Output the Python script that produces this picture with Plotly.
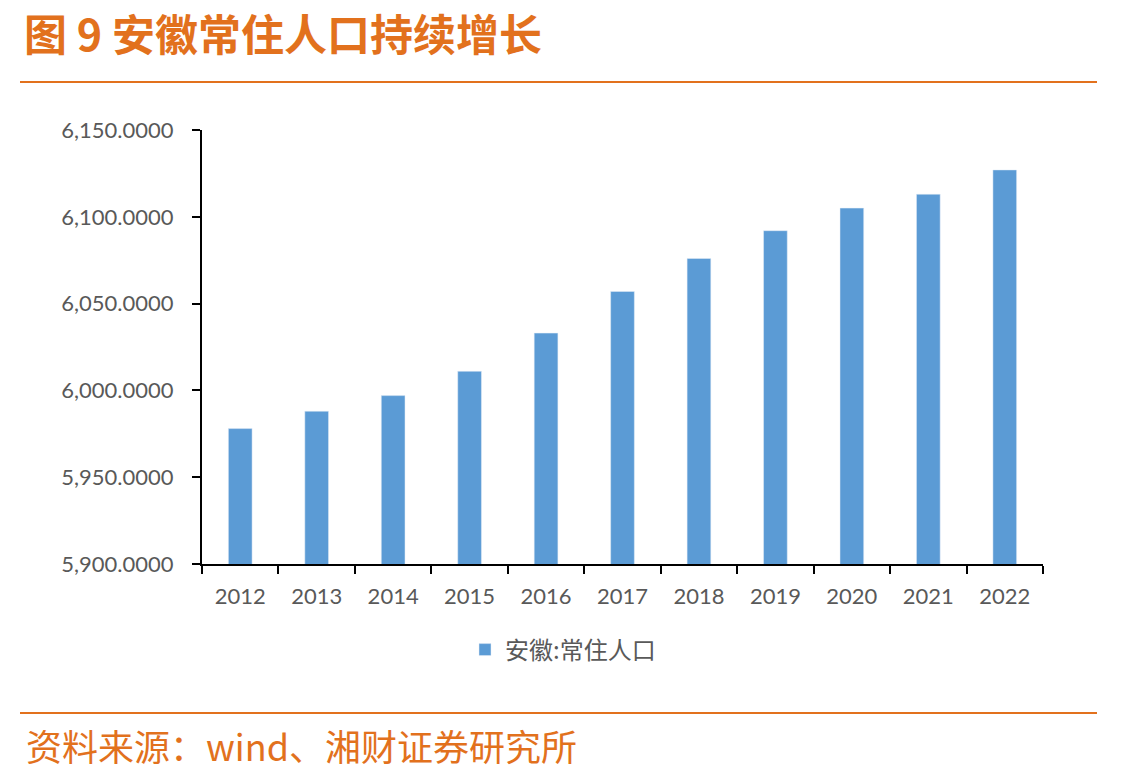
import plotly.graph_objects as go

years = ["2012", "2013", "2014", "2015", "2016", "2017", "2018", "2019", "2020", "2021", "2022"]
population = [5978, 5988, 5997, 6011, 6033, 6057, 6076, 6092, 6105, 6113, 6127]
series_name = "安徽:常住人口"
title_text = "图 9 安徽常住人口持续增长"
source_text = "资料来源：wind、湘财证券研究所"

W, H = 1145, 774
L, R, T, B = 202, 1043, 130, 564
orange = "#E2711D"

def py(pix):
    return (B - pix) / (B - T)

def px(pix):
    return (pix - L) / (R - L)

fig = go.Figure()
fig.add_trace(go.Bar(
    x=years, y=population, name=series_name,
    marker=dict(color="#5B9BD5"), width=0.31, showlegend=True,
))

fig.update_layout(
    width=W, height=H,
    margin=dict(l=L, r=W - R, t=T, b=H - B),
    plot_bgcolor="white", paper_bgcolor="white",
    showlegend=True,
    font=dict(family="Lato, 'Noto Sans CJK SC'", color="#595959", size=22),
    xaxis=dict(
        type="category", showline=True, linecolor="black", linewidth=2,
        ticks="outside", tickson="boundaries", ticklen=8, tickcolor="black", tickwidth=2,
        tickfont=dict(size=22, color="#595959"), showgrid=False,
        ticklabelstandoff=12,
    ),
    yaxis=dict(
        range=[5900, 6150], dtick=50, tickformat=",.4f",
        showline=True, linecolor="black", linewidth=2,
        ticks="outside", ticklen=8, tickcolor="black", tickwidth=2,
        tickfont=dict(size=22, color="#595959"), showgrid=False, zeroline=False,
        ticklabelstandoff=14,
    ),
    legend=dict(
        orientation="h", x=px(563), xanchor="center", y=py(650), yanchor="middle",
        font=dict(size=24, color="#595959", family="'Noto Sans CJK SC'"),
    ),
    annotations=[
        dict(text="<b>" + title_text + "</b>", xref="paper", yref="paper",
             x=px(22), y=py(32), xanchor="left", yanchor="middle",
             showarrow=False, font=dict(size=43, color=orange, family="'Noto Sans CJK SC'")),
        dict(text=source_text, xref="paper", yref="paper",
             x=px(24), y=py(745), xanchor="left", yanchor="middle",
             showarrow=False, font=dict(size=36, color=orange, family="'Noto Sans CJK SC'")),
    ],
    shapes=[
        dict(type="line", xref="paper", yref="paper",
             x0=px(20), x1=px(1097), y0=py(82), y1=py(82),
             line=dict(color=orange, width=2)),
        dict(type="line", xref="paper", yref="paper",
             x0=px(20), x1=px(1097), y0=py(713), y1=py(713),
             line=dict(color=orange, width=2)),
    ],
)

fig.write_html("out.html")
